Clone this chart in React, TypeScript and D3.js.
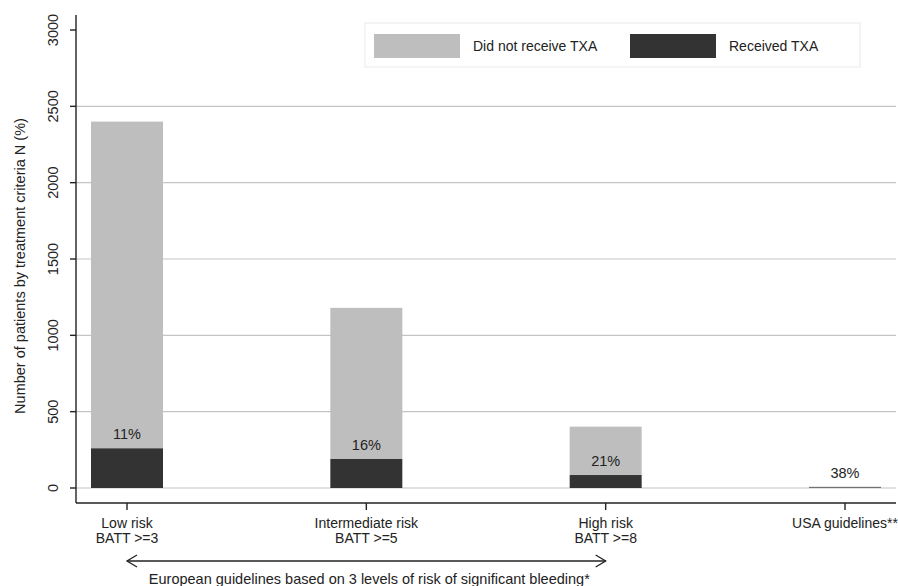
import React, { useRef, useEffect } from "react";
import * as d3 from "d3";

// categories and values
const categories = ["low", "intermediate", "high", "usa"];
const catLine1 = ["Low risk", "Intermediate risk", "High risk", "USA guidelines**"];
const catLine2 = ["BATT >=3", "BATT >=5", "BATT >=8", ""];
const totalPatients = [2400, 1180, 402, 9];
const receivedTXA = [260, 190, 85, 4];
const pctLabels = ["11%", "16%", "21%", "38%"];
const yTicks = [0, 500, 1000, 1500, 2000, 2500, 3000];
const gridTicks = [0, 500, 1000, 1500, 2000, 2500];
const legendLabels = ["Did not receive TXA", "Received TXA"];

const LIGHT = "#bebebe";
const DARK = "#333333";
const FONT = "'Liberation Sans', Arial, Helvetica, sans-serif";

export default function App() {
  const svgRef = useRef<SVGSVGElement | null>(null);

  useEffect(() => {
    const width = 898;
    const height = 586;
    const axisX = 76;
    const axisY = 503;
    const right = 896;

    const svg = d3.select(svgRef.current).attr("width", width).attr("height", height);
    svg.selectAll("*").remove();
    svg.append("rect").attr("width", width).attr("height", height).attr("fill", "#fff");

    const y = d3.scaleLinear().domain([0, 3000]).range([488, 30]);
    const x = d3.scalePoint<string>().domain(categories).range([127, 845]);
    const barW = 72;

    // gridlines
    svg
      .selectAll(".grid")
      .data(gridTicks)
      .join("line")
      .attr("x1", axisX)
      .attr("x2", right)
      .attr("y1", (d) => y(d))
      .attr("y2", (d) => y(d))
      .attr("stroke", "#c4c4c4")
      .attr("stroke-width", 1.2);

    // bars: not received (top) stacked on received (bottom)
    const rows = categories.map((c, i) => ({
      c,
      total: totalPatients[i],
      rec: receivedTXA[i],
      pct: pctLabels[i],
    }));

    svg
      .selectAll(".barTotal")
      .data(rows)
      .join("rect")
      .attr("x", (d) => x(d.c)! - barW / 2)
      .attr("width", barW)
      .attr("y", (d) => y(d.total))
      .attr("height", (d) => y(d.rec) - y(d.total))
      .attr("fill", LIGHT);

    svg
      .selectAll(".barRec")
      .data(rows)
      .join("rect")
      .attr("x", (d) => x(d.c)! - barW / 2)
      .attr("width", barW)
      .attr("y", (d) => y(d.rec))
      .attr("height", (d) => y(0) - y(d.rec))
      .attr("fill", DARK);

    svg
      .selectAll(".pct")
      .data(rows)
      .join("text")
      .attr("x", (d) => x(d.c)!)
      .attr("y", (d) => y(d.rec) - 9)
      .attr("text-anchor", "middle")
      .attr("font-family", FONT)
      .attr("font-size", 14.5)
      .attr("fill", "#222")
      .text((d) => d.pct);

    // y axis
    svg
      .append("line")
      .attr("x1", axisX)
      .attr("x2", axisX)
      .attr("y1", 15)
      .attr("y2", axisY)
      .attr("stroke", "#222")
      .attr("stroke-width", 1.4);

    const yt = svg.selectAll(".ytick").data(yTicks).join("g").attr("transform", (d) => `translate(${axisX},${y(d)})`);
    yt.append("line").attr("x1", -6).attr("x2", 0).attr("stroke", "#222").attr("stroke-width", 1.4);
    yt.append("text")
      .attr("transform", "translate(-23,0) rotate(-90)")
      .attr("text-anchor", "middle")
      .attr("dy", "0.35em")
      .attr("font-family", FONT)
      .attr("font-size", 14.5)
      .attr("fill", "#222")
      .text((d) => String(d));

    svg
      .append("text")
      .attr("transform", `translate(25,266) rotate(-90)`)
      .attr("text-anchor", "middle")
      .attr("font-family", FONT)
      .attr("font-size", 14.5)
      .attr("fill", "#222")
      .text("Number of patients by treatment criteria N (%)");

    // x axis
    svg
      .append("line")
      .attr("x1", axisX)
      .attr("x2", right)
      .attr("y1", axisY)
      .attr("y2", axisY)
      .attr("stroke", "#222")
      .attr("stroke-width", 1.4);

    const xt = svg.selectAll(".xtick").data(categories).join("g").attr("transform", (d) => `translate(${x(d)},${axisY})`);
    xt.append("line").attr("y1", 0).attr("y2", 7).attr("stroke", "#222").attr("stroke-width", 1.4);
    xt.append("text")
      .attr("y", 25)
      .attr("text-anchor", "middle")
      .attr("font-family", FONT)
      .attr("font-size", 14)
      .attr("fill", "#222")
      .text((d, i) => catLine1[i]);
    xt.append("text")
      .attr("y", 40)
      .attr("text-anchor", "middle")
      .attr("font-family", FONT)
      .attr("font-size", 14)
      .attr("fill", "#222")
      .text((d, i) => catLine2[i]);

    // double arrow spanning the European guideline categories
    const ax1 = x("low")!;
    const ax2 = x("high")!;
    const ay = 561;
    svg
      .append("line")
      .attr("x1", ax1)
      .attr("x2", ax2)
      .attr("y1", ay)
      .attr("y2", ay)
      .attr("stroke", "#222")
      .attr("stroke-width", 1.3);
    svg
      .append("path")
      .attr("d", `M${ax1 + 10},${ay - 6}L${ax1},${ay}L${ax1 + 10},${ay + 6}M${ax2 - 10},${ay - 6}L${ax2},${ay}L${ax2 - 10},${ay + 6}`)
      .attr("fill", "none")
      .attr("stroke", "#222")
      .attr("stroke-width", 1.3);
    svg
      .append("text")
      .attr("x", (ax1 + ax2) / 2 + 3)
      .attr("y", 584)
      .attr("text-anchor", "middle")
      .attr("font-family", FONT)
      .attr("font-size", 14.5)
      .attr("fill", "#222")
      .text("European guidelines based on 3 levels of risk of significant bleeding*");

    // legend
    const lg = svg.append("g");
    lg.append("rect")
      .attr("x", 365)
      .attr("y", 23)
      .attr("width", 495)
      .attr("height", 44)
      .attr("fill", "#fff")
      .attr("stroke", "#eaeaea");
    const swX = [374, 630];
    const swColors = [LIGHT, DARK];
    legendLabels.forEach((lab, i) => {
      lg.append("rect").attr("x", swX[i]).attr("y", 34).attr("width", 86).attr("height", 24).attr("fill", swColors[i]);
      lg.append("text")
        .attr("x", swX[i] + 99)
        .attr("y", 46)
        .attr("dy", "0.35em")
        .attr("font-family", FONT)
        .attr("font-size", 14)
        .attr("fill", "#222")
        .text(lab);
    });
  }, []);

  return <svg ref={svgRef} style={{ position: "absolute", left: 0, top: 0, display: "block" }}></svg>;
}
